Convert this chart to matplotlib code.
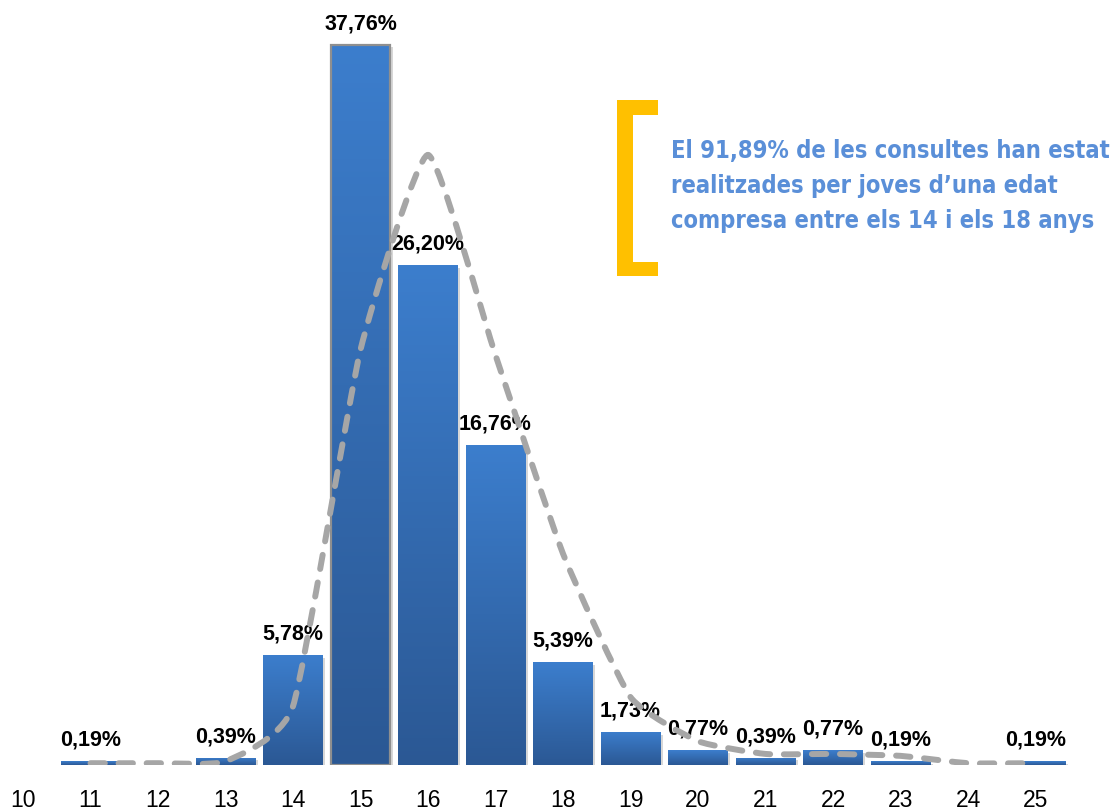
import numpy as np
import matplotlib.pyplot as plt
from matplotlib.patches import Rectangle, PathPatch
from matplotlib.path import Path
from matplotlib.colors import LinearSegmentedColormap
import matplotlib.patheffects as pe

# Ages and share of consultations (%)
ages = [10, 11, 12, 13, 14, 15, 16, 17, 18, 19, 20, 21, 22, 23, 24, 25]
shares = [0.0, 0.19, 0.0, 0.39, 5.78, 37.76, 26.20, 16.76, 5.39, 1.73,
          0.77, 0.39, 0.77, 0.19, 0.0, 0.19]
labels = ['', '0,19%', '', '0,39%', '5,78%', '37,76%', '26,20%', '16,76%',
          '5,39%', '1,73%', '0,77%', '0,39%', '0,77%', '0,19%', '', '0,19%']

# Dashed trend line (2-period moving average, as drawn)
trend_ages = [11, 12, 13, 14, 15, 16, 17, 18, 19, 20, 21, 22, 23, 24, 25]
trend_vals = [0.095, 0.095, 0.195, 3.085, 21.77, 31.98, 21.48, 11.075, 3.56,
              1.25, 0.58, 0.58, 0.48, 0.095, 0.095]

note_lines = ['El 91,89% de les consultes han estat',
              'realitzades per joves d\u2019una edat',
              'compresa entre els 14 i els 18 anys']

W, H = 1119, 810
fig = plt.figure(figsize=(W / 100, H / 100), dpi=100)
ax = fig.add_axes([0, 45 / H, 1, 765 / H])
ax.set_xlim(9.659, 26.237)
ax.set_ylim(0, 40.1)

bars = ax.bar(ages, shares, width=0.88, color='#3370b8', zorder=2,
              path_effects=[pe.SimplePatchShadow(offset=(2, -2), shadow_rgbFace='#b0b0b0', alpha=0.5),
                            pe.Normal()])

# vertical gradient on every bar
cmap = LinearSegmentedColormap.from_list('barblue', ['#2b5894', '#3c7ecd'])
grad = np.linspace(0, 1, 256).reshape(-1, 1)
for b, v in zip(bars, shares):
    if v <= 0:
        continue
    x0, y0 = b.get_xy()
    im = ax.imshow(grad, cmap=cmap, origin='lower', aspect='auto', zorder=3,
                   extent=(x0, x0 + b.get_width(), y0, y0 + b.get_height()))
    im.set_clip_path(b)

# highlighted outline on the tallest bar
top = bars[int(np.argmax(shares))]
ax.add_patch(Rectangle(top.get_xy(), top.get_width(), top.get_height(), fill=False,
                       edgecolor='#8f8f8f', lw=1.6, zorder=4))

for a, v, lab in zip(ages, shares, labels):
    if lab:
        ax.annotate(lab, (a, v), xytext=(0, 7.5), textcoords='offset points',
                    ha='center', va='bottom', fontsize=15.5, fontweight='bold',
                    family='Liberation Sans', color='black', zorder=5)

# smoothed dashed line (tight cubic Bezier through the points)
k = 0.08
pts = np.column_stack([trend_ages, trend_vals])
ext = np.vstack([pts[0], pts, pts[-1]])
verts = [tuple(pts[0])]
codes = [Path.MOVETO]
for i in range(1, len(ext) - 2):
    p0, p1, p2, p3 = ext[i - 1], ext[i], ext[i + 1], ext[i + 2]
    c1 = p1 + (p2 - p0) * k
    c2 = p2 - (p3 - p1) * k
    verts += [tuple(c1), tuple(c2), tuple(p2)]
    codes += [Path.CURVE4] * 3
ax.add_patch(PathPatch(Path(verts, codes), fill=False, edgecolor='#a6a6a6', lw=4.3,
                       linestyle=(0, (2.4, 2.3)), capstyle='round', zorder=6))

ax.set_xticks(ages)
ax.set_xticklabels([str(a) for a in ages], fontsize=16.5, family='Liberation Sans')
ax.tick_params(axis='x', length=0, pad=17)
ax.set_yticks([])
for s in ax.spines.values():
    s.set_visible(False)
ax.patch.set_alpha(0)

# yellow bracket and note
def px(x, y):
    return x / W, 1 - y / H

for (x0, y0, x1, y1) in [(617, 100, 633, 276), (617, 100, 658, 115), (617, 262, 658, 276)]:
    fx, fy = px(x0, y1)
    fig.add_artist(Rectangle((fx, fy), (x1 - x0) / W, (y1 - y0) / H,
                             transform=fig.transFigure, color='#ffc000', lw=0))

for i, line in enumerate(note_lines):
    fx, fy = px(671, 158 + 35 * i)
    fig.text(fx, fy, line, ha='left', va='baseline', fontsize=17, fontweight='bold',
             family='DejaVu Sans', stretch='condensed', color='#5a8fd8')

fig.savefig('out.png', dpi=100)
